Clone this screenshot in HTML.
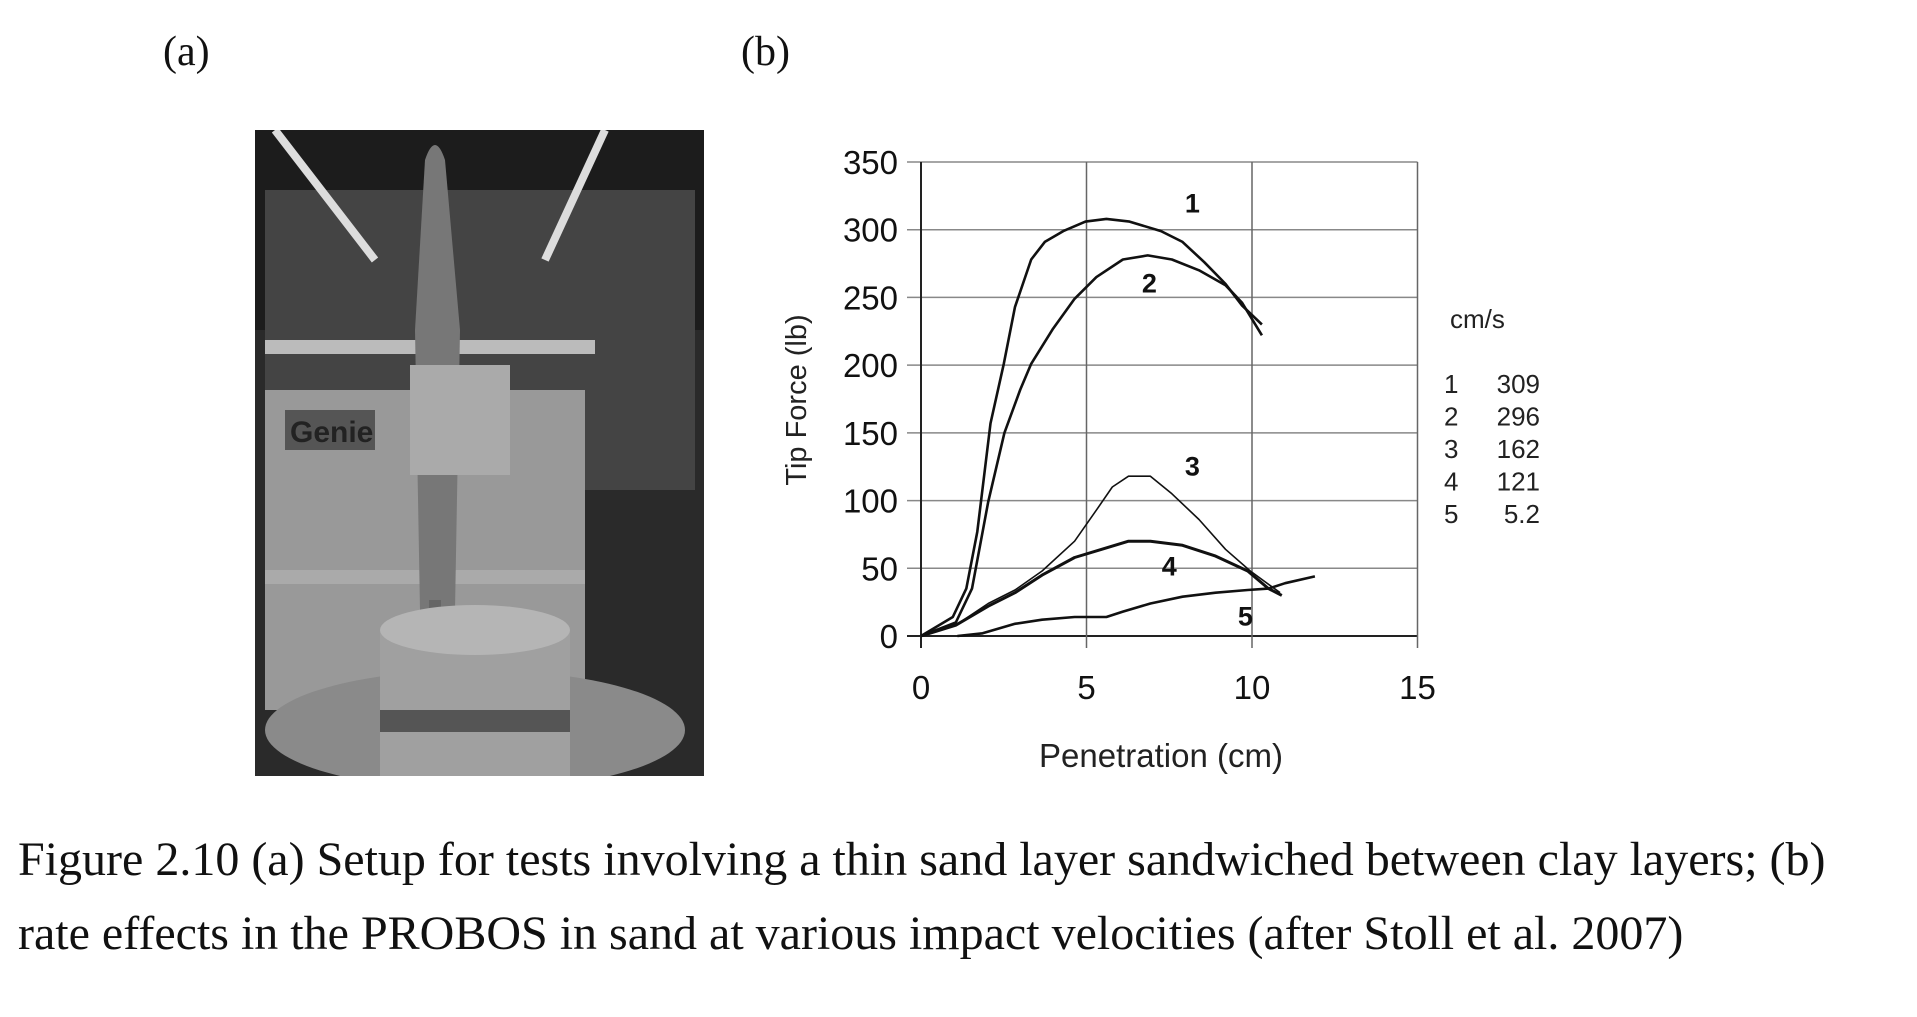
<!DOCTYPE html>
<html><head><meta charset="utf-8"><style>
body{margin:0;width:1917px;height:1017px;background:#fff;overflow:hidden;position:relative;font-family:"Liberation Serif",serif}
.lbl{position:absolute;font-size:42px;color:#111}
.cap{position:absolute;left:18px;font-size:48px;color:#111;white-space:nowrap;letter-spacing:0px}
</style></head><body>
<div class="lbl" style="left:163px;top:28px">(a)</div>
<div class="lbl" style="left:741px;top:28px">(b)</div>
<svg style="position:absolute;left:255px;top:130px" width="449" height="646" viewBox="0 0 449 646">
<rect width="449" height="646" fill="#2a2a2a"/>
<rect x="0" y="0" width="449" height="200" fill="#1c1c1c"/>
<rect x="10" y="60" width="430" height="300" fill="#444"/>
<line x1="20" y1="0" x2="120" y2="130" stroke="#ddd" stroke-width="8"/>
<line x1="350" y1="0" x2="290" y2="130" stroke="#ddd" stroke-width="8"/>
<rect x="10" y="260" width="320" height="320" fill="#999"/>
<rect x="10" y="210" width="330" height="14" fill="#bbb"/>
<rect x="10" y="440" width="320" height="14" fill="#aaa"/>
<rect x="30" y="280" width="90" height="40" fill="#555"/>
<text x="35" y="312" font-family="Liberation Sans" font-weight="bold" font-size="30" fill="#222">Genie</text>
<path d="M170 30 Q180 0 190 30 L205 200 L200 480 L165 480 L160 200 Z" fill="#777"/>
<rect x="155" y="235" width="100" height="110" fill="#aaa"/>
<rect x="174" y="470" width="12" height="110" fill="#666"/>
<ellipse cx="220" cy="600" rx="210" ry="60" fill="#8a8a8a"/>
<rect x="125" y="500" width="190" height="146" fill="#a0a0a0"/>
<ellipse cx="220" cy="500" rx="95" ry="25" fill="#b5b5b5"/>
<rect x="125" y="580" width="190" height="22" fill="#555"/>
</svg>
<svg id="chart" style="position:absolute;left:0;top:0" width="1917" height="1017"></svg>
<div class="cap" style="top:832px">Figure 2.10 (a) Setup for tests involving a thin sand layer sandwiched between clay layers; (b)</div>
<div class="cap" style="top:906px">rate effects in the PROBOS in sand at various impact velocities (after Stoll et al. 2007)</div>
<script>
const xTicks=[0,5,10,15];
const yTicks=[0,50,100,150,200,250,300,350];
const s1x=[0,0.96,1.37,1.7,2.1,2.5,2.84,3.33,3.74,4.3,4.97,5.6,6.3,7.25,7.9,8.56,9.2,9.7,10.3];
const s1y=[0,14,35,77,157,201,243,278,291,299,306,308,306,299,291,276,260,244,230];
const s2x=[0,1.05,1.54,2.03,2.52,3.0,3.33,3.99,4.64,5.3,6.1,6.85,7.58,8.4,9.2,9.7,10.3];
const s2y=[0,10,35,99,150,182,201,227,249,265,278,281,278,270,259,246,222];
const s3x=[0,1.05,2.03,2.84,3.66,4.64,5.3,5.78,6.27,6.93,7.58,8.4,9.2,9.95,10.85];
const s3y=[0,8,24,34,48,70,93,110,118,118,105,86,64,48,32];
const s4x=[0,1.05,2.03,2.84,3.66,4.64,5.46,6.27,6.93,7.9,8.9,9.87,10.5,10.9];
const s4y=[0,8,22,32,45,58,64,70,70,67,59,48,35,30];
const s5x=[1.1,1.86,2.84,3.66,4.64,5.6,6.1,6.93,7.9,8.9,9.87,10.5,11.0,11.9];
const s5y=[0,2,9,12,14,14,18,24,29,32,34,35,39,44];
const curveNames=["1","2","3","4","5"];
const curveLabelX=[8.2,6.9,8.2,7.5,9.8];
const curveLabelY=[320,261,126,52,15];
const legendIds=["1","2","3","4","5"];
const legendVals=["309","296","162","121","5.2"];
const NS="http://www.w3.org/2000/svg";
const svg=document.getElementById('chart');
const X=v=>921+v*33.1, Y=v=>636-v*(474/350);
function mk(t,a,txt){const e=document.createElementNS(NS,t);for(const k in a)e.setAttribute(k,a[k]);if(txt!==undefined)e.textContent=txt;svg.appendChild(e);return e;}
const F='"Liberation Sans",Arial,sans-serif';
yTicks.forEach(v=>{
 const l=mk('line',{x1:X(0)-14,x2:X(15),y1:Y(v),y2:Y(v),stroke:v===0?'#222':'#888','stroke-width':v===0?2:1.5});
 
 
 const t=mk('text',{x:898,y:Y(v)+12,'text-anchor':'end','font-family':F,'font-size':33,fill:'#111'},String(v));
 
 
});
xTicks.forEach(v=>{
 const l=mk('line',{x1:X(v),x2:X(v),y1:Y(350),y2:Y(0)+12,stroke:v===0?'#222':'#666','stroke-width':v===0?2:1.5});
 
 
 const t=mk('text',{x:X(v),y:699,'text-anchor':'middle','font-family':F,'font-size':33,fill:'#111'},String(v));
 
 
});
const xt=mk('text',{x:1161,y:767,'text-anchor':'middle','font-family':F,'font-size':33,fill:'#222'},'Penetration (cm)');


const yt=mk('text',{x:0,y:0,transform:'translate(806,400) rotate(-90)','text-anchor':'middle','font-family':F,'font-size':29,fill:'#222'},'Tip Force (lb)');


const series=[[s1x,s1y,2.6],[s2x,s2y,2.6],[s3x,s3y,1.6],[s4x,s4y,3],[s5x,s5y,2.6]];
series.forEach((s,i)=>{
 let d='';
 s[0].forEach((x,j)=>{d+=(j?'L':'M')+X(x).toFixed(1)+' '+Y(s[1][j]).toFixed(1);});
 const p=mk('path',{d:d,fill:'none',stroke:'#111','stroke-width':s[2],'stroke-linejoin':'round'});
 
 
 const t=mk('text',{x:X(curveLabelX[i]),y:Y(curveLabelY[i])+10,'text-anchor':'middle','font-family':F,'font-weight':'bold','font-size':27,fill:'#111'},curveNames[i]);
 
 
});
const lt=mk('text',{x:1450,y:328,'font-family':F,'font-size':26,fill:'#222'},'cm/s');


legendIds.forEach((id,i)=>{
 const y=393+i*32.5;
 const a=mk('text',{x:1444,y:y,'font-family':F,'font-size':26,fill:'#222'},id);
 
 
 const b=mk('text',{x:1540,y:y,'text-anchor':'end','font-family':F,'font-size':26,fill:'#222'},legendVals[i]);
 
 
});
</script>
</body></html>
